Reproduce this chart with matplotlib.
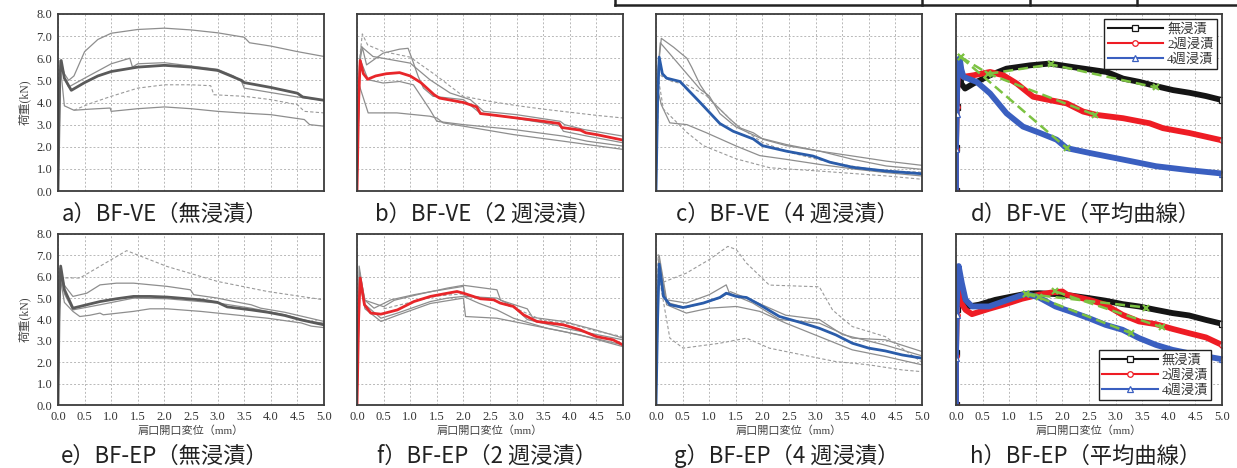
import numpy as np
import matplotlib
matplotlib.use("Agg")
import matplotlib.pyplot as plt
from matplotlib.lines import Line2D
from matplotlib.ticker import FormatStrFormatter

plt.rcParams['font.serif'] = ['Liberation Serif', 'DejaVu Serif']
plt.rcParams['font.family'] = ['serif', 'Noto Sans CJK JP']

# ---- data: (crack opening mm, load kN) ----
# a) BF-VE 無浸漬
a_avg = [(0, 0), (0.03, 5.0), (0.06, 5.9), (0.12, 5.1), (0.25, 4.55), (0.5, 4.9), (0.75, 5.2), (1.0, 5.4),
         (1.5, 5.6), (2.0, 5.68), (2.5, 5.6), (3.0, 5.45), (3.25, 5.2), (3.45, 5.0), (3.5, 4.9), (4.0, 4.68),
         (4.5, 4.42), (4.6, 4.25), (5.0, 4.1)]
a_g1 = [(0, 0), (0.04, 5.9), (0.12, 5.3), (0.2, 5.0), (0.3, 5.2), (0.5, 6.3), (0.75, 6.85), (1.0, 7.13),
        (1.5, 7.3), (2.0, 7.36), (2.5, 7.28), (3.0, 7.15), (3.5, 6.95), (3.6, 6.7), (4.0, 6.55), (4.5, 6.3),
        (5.0, 6.08)]
a_g2 = [(0, 0), (0.04, 5.9), (0.12, 5.1), (0.2, 4.7), (0.5, 5.1), (1.0, 5.75), (1.35, 6.0), (1.4, 5.6),
        (1.5, 5.75), (2.0, 5.8), (2.5, 5.65), (3.0, 5.5), (3.3, 5.2), (3.45, 4.95), (3.5, 4.65), (4.0, 4.45),
        (4.5, 4.25), (5.0, 4.1)]
a_dash = [(0.3, 3.65), (0.6, 3.95), (1.0, 4.28), (1.5, 4.65), (2.0, 4.8), (2.5, 4.8), (2.87, 4.76),
          (2.93, 4.35), (3.5, 4.28), (4.0, 4.13), (4.5, 3.9), (4.63, 3.6), (5.0, 3.53)]
a_g3 = [(0, 0), (0.05, 5.5), (0.12, 3.85), (0.3, 3.65), (0.6, 3.7), (0.98, 3.75), (1.0, 3.6), (1.5, 3.72),
        (2.0, 3.8), (2.5, 3.72), (3.0, 3.6), (3.5, 3.52), (4.0, 3.45), (4.63, 3.23), (4.73, 3.0), (5.0, 2.93)]

# b) BF-VE 2週浸漬
b_avg = [(0, 0), (0.03, 4.0), (0.06, 5.9), (0.12, 5.3), (0.2, 5.05), (0.35, 5.2), (0.55, 5.3), (0.8, 5.35),
         (1.0, 5.2), (1.2, 4.9), (1.45, 4.35), (1.55, 4.2), (2.0, 4.0), (2.25, 3.8), (2.32, 3.5), (2.5, 3.45),
         (3.0, 3.3), (3.5, 3.15), (3.8, 3.05), (3.85, 2.87), (4.2, 2.75), (4.3, 2.63), (4.5, 2.55), (5.0, 2.3)]
b_dash = [(0, 0), (0.05, 6.0), (0.1, 7.1), (0.2, 6.6), (0.5, 6.3), (1.0, 6.05), (1.5, 5.2), (2.0, 4.28),
          (2.5, 4.05), (3.0, 3.86), (3.5, 3.7), (4.0, 3.56), (4.5, 3.42), (5.0, 3.3)]
b_g1 = [(0, 0), (0.05, 5.8), (0.1, 6.5), (0.18, 5.7), (0.49, 6.23), (0.8, 6.41), (0.96, 6.45), (1.03, 6.0),
        (1.15, 5.18), (1.25, 4.65), (1.43, 4.28), (2.0, 4.13), (2.31, 3.53), (2.94, 3.3), (3.5, 3.08),
        (3.82, 2.93), (3.88, 2.7), (4.33, 2.48), (5.0, 2.18)]
b_g2 = [(0, 0), (0.05, 5.8), (0.08, 6.53), (0.3, 6.08), (1.0, 5.78), (1.37, 5.03), (1.75, 4.43), (2.13, 4.13),
        (2.38, 3.6), (3.0, 3.45), (3.82, 3.15), (3.9, 3.0), (4.26, 2.78), (5.0, 2.48)]
b_g3 = [(0, 0), (0.04, 4.8), (0.21, 3.53), (0.75, 3.53), (1.37, 3.38), (1.5, 3.3), (1.62, 3.08), (2.0, 2.93),
        (2.94, 2.55), (3.88, 2.25), (5.0, 1.88)]
b_g4 = [(0, 0), (0.05, 6.0), (0.21, 5.03), (0.49, 4.88), (0.8, 4.95), (1.06, 4.8), (1.37, 3.68), (1.5, 3.15),
        (2.0, 3.0), (2.94, 2.78), (3.88, 2.48), (4.33, 2.25), (5.0, 2.03)]

# c) BF-VE 4週浸漬
c_avg = [(0, 0), (0.03, 4.0), (0.06, 6.05), (0.12, 5.3), (0.2, 5.1), (0.45, 4.95), (0.83, 4.0), (1.2, 3.05),
         (1.45, 2.7), (1.83, 2.35), (2.0, 2.05), (2.45, 1.8), (2.95, 1.58), (3.27, 1.3), (3.7, 1.07),
         (4.33, 0.9), (5.0, 0.78)]
c_g1 = [(0, 0), (0.04, 5.5), (0.1, 6.9), (0.33, 6.5), (0.58, 6.0), (0.67, 5.6), (0.83, 4.8), (1.01, 4.15),
        (1.2, 3.7), (1.39, 3.25), (1.58, 2.85), (1.83, 2.63), (2.02, 2.33), (2.45, 2.05), (3.08, 1.8),
        (3.7, 1.58), (4.33, 1.35), (5.0, 1.16)]
c_g2 = [(0, 0), (0.04, 5.5), (0.08, 6.7), (0.26, 6.2), (0.58, 5.3), (0.83, 4.6), (1.0, 4.3), (1.2, 3.5),
        (1.5, 2.9), (1.95, 2.4), (2.45, 2.1), (3.08, 1.8), (3.7, 1.43), (4.33, 1.13), (5.0, 0.98)]
c_dash1 = [(0, 0), (0.04, 5.5), (0.1, 5.2), (0.3, 4.95), (0.58, 4.8), (0.95, 4.3), (1.2, 3.7), (1.5, 3.0),
           (2.0, 2.2), (2.5, 1.75), (3.0, 1.45), (3.5, 1.2), (4.0, 1.0), (4.5, 0.9), (5.0, 0.85)]
c_g3 = [(0, 0), (0.04, 4.5), (0.1, 3.9), (0.26, 3.08), (0.58, 3.0), (0.95, 2.63), (1.51, 2.03), (1.95, 1.6),
        (2.45, 1.43), (3.08, 1.2), (3.7, 1.0), (4.33, 0.83), (5.0, 0.68)]
c_dash2 = [(0, 0), (0.05, 5.0), (0.14, 3.7), (0.58, 2.65), (0.89, 2.05), (1.51, 1.45), (2.14, 1.05),
           (3.08, 0.9), (4.33, 0.68), (5.0, 0.53)]

# d) BF-VE 平均曲線
d_black = [(0, 0), (0.0, 1.95), (0.01, 3.8), (0.03, 5.2), (0.06, 5.6), (0.1, 4.85), (0.17, 4.63), (0.33, 4.86),
           (0.64, 5.23), (0.95, 5.53), (1.39, 5.68), (1.76, 5.76), (2.2, 5.6), (2.83, 5.38), (3.14, 5.08),
           (3.45, 4.93), (3.76, 4.74), (4.08, 4.56), (4.39, 4.44), (4.7, 4.29), (5.0, 4.11)]
d_red = [(0, 0), (0.0, 1.9), (0.01, 3.8), (0.02, 4.5), (0.05, 5.9), (0.09, 5.4), (0.14, 5.16), (0.33, 5.23),
         (0.64, 5.38), (0.89, 5.23), (1.14, 4.86), (1.45, 4.26), (1.76, 4.11), (2.08, 3.96), (2.39, 3.59),
         (2.64, 3.44), (3.14, 3.29), (3.64, 3.06), (3.89, 2.84), (4.39, 2.62), (5.0, 2.29)]
d_blue = [(0, 0), (0.0, 1.9), (0.01, 3.5), (0.03, 5.3), (0.07, 6.0), (0.1, 5.5), (0.14, 5.16), (0.39, 4.93),
          (0.64, 4.41), (0.95, 3.51), (1.26, 2.91), (1.58, 2.62), (1.89, 2.32), (2.08, 1.94), (2.51, 1.72),
          (3.14, 1.42), (3.76, 1.12), (4.39, 0.94), (5.0, 0.79)]
d_fit_black = [(0.61, 5.3), (1.79, 5.72), (3.76, 4.68)]
d_fit_red = [(0.09, 6.05), (0.61, 5.3), (2.61, 3.44)]
d_fit_blue = [(0.09, 6.05), (2.08, 1.94)]

# e) BF-EP 無浸漬
e_avg = [(0, 0), (0.02, 4.5), (0.05, 6.5), (0.12, 5.4), (0.28, 4.53), (0.54, 4.69), (0.79, 4.84), (1.1, 4.97),
         (1.42, 5.08), (1.73, 5.08), (2.05, 5.05), (2.68, 4.92), (3.0, 4.8), (3.18, 4.59), (3.63, 4.45),
         (3.94, 4.34), (4.26, 4.19), (4.57, 3.98), (5.0, 3.75)]
e_dash = [(0, 0), (0.02, 5.95), (0.41, 5.94), (1.29, 7.22), (2.05, 6.48), (3.0, 5.78), (3.94, 5.31), (5.0, 4.92)]
e_g1 = [(0, 0), (0.03, 6.4), (0.12, 5.6), (0.28, 5.08), (0.54, 5.23), (0.79, 5.62), (1.1, 5.7), (1.42, 5.7),
        (2.05, 5.55), (2.49, 5.39), (2.55, 5.16), (3.0, 5.0), (3.31, 4.84), (3.63, 4.69), (3.81, 4.53),
        (4.26, 4.34), (5.0, 3.91)]
e_g2 = [(0, 0), (0.04, 6.2), (0.12, 5.2), (0.28, 4.45), (0.79, 4.69), (1.42, 5.0), (2.05, 4.97), (3.0, 4.77),
        (3.63, 4.53), (4.26, 4.22), (4.75, 3.9), (5.0, 3.83)]
e_g3 = [(0, 0), (0.04, 6.0), (0.12, 4.8), (0.28, 4.38), (0.41, 4.14), (0.6, 4.2), (0.79, 4.3), (0.85, 4.22),
        (1.42, 4.38), (1.73, 4.5), (2.05, 4.5), (2.68, 4.38), (3.31, 4.22), (3.94, 4.06), (4.57, 3.84),
        (4.76, 3.69), (5.0, 3.62)]

# f) BF-EP 2週浸漬
f_avg = [(0, 0), (0.03, 4.0), (0.06, 5.94), (0.14, 4.69), (0.26, 4.3), (0.45, 4.25), (0.76, 4.45), (1.07, 4.84),
         (1.38, 5.08), (1.7, 5.23), (1.88, 5.31), (2.0, 5.23), (2.32, 4.97), (2.57, 4.92), (2.69, 4.77),
         (2.94, 4.61), (3.13, 4.22), (3.38, 3.91), (3.88, 3.75), (4.19, 3.52), (4.5, 3.2), (4.81, 3.05), (5.0, 2.81)]
f_g1 = [(0, 0), (0.04, 6.5), (0.14, 4.92), (0.32, 4.53), (0.64, 4.92), (1.07, 5.16), (1.38, 5.3), (2.0, 5.55),
        (2.03, 5.08), (2.63, 5.0), (2.94, 4.61), (3.2, 4.0), (3.88, 3.6), (4.5, 3.3), (5.0, 3.05)]
f_g2 = [(0, 0), (0.05, 6.0), (0.15, 4.7), (0.45, 4.06), (0.76, 4.3), (1.38, 4.84), (1.7, 5.0), (2.0, 5.08),
        (2.3, 4.75), (2.63, 4.45), (2.94, 4.06), (3.57, 3.59), (4.19, 3.28), (5.0, 2.73)]
f_g3 = [(0, 0), (0.05, 5.8), (0.15, 4.5), (0.45, 3.91), (0.76, 4.2), (1.38, 4.75), (2.0, 5.0), (2.04, 4.14),
        (2.63, 4.06), (3.25, 3.75), (3.88, 3.44), (4.5, 3.1), (5.0, 2.81)]
f_g4 = [(0, 0), (0.05, 6.2), (0.15, 4.9), (0.5, 4.6), (0.7, 4.9), (1.2, 5.2), (1.7, 5.47), (2.0, 5.6),
        (2.63, 5.39), (2.7, 4.9), (3.2, 4.5), (3.3, 4.1), (3.88, 3.91), (4.5, 3.5), (5.0, 3.13)]
f_dash = [(0.5, 4.5), (1.0, 4.8), (1.5, 5.1), (2.0, 5.2), (2.5, 4.95), (3.0, 4.5), (3.5, 3.95), (4.0, 3.8),
          (4.5, 3.45), (5.0, 3.2)]

# g) BF-EP 4週浸漬
g_avg = [(0, 0), (0.03, 4.0), (0.06, 6.59), (0.14, 5.08), (0.26, 4.69), (0.51, 4.56), (0.89, 4.77), (1.2, 5.03),
         (1.32, 5.23), (1.51, 5.08), (1.7, 5.03), (1.95, 4.69), (2.32, 4.14), (2.76, 3.83), (3.07, 3.59),
         (3.38, 3.28), (3.69, 2.89), (4.0, 2.66), (4.31, 2.53), (4.63, 2.34), (5.0, 2.19)]
g_dash1 = [(0, 0), (0.04, 7.03), (0.14, 5.75), (0.57, 6.17), (1.0, 6.8), (1.35, 7.42), (1.51, 7.27), (1.7, 6.64),
           (2.13, 5.61), (3.07, 5.53), (3.32, 4.44), (3.69, 3.67), (4.31, 3.2), (5.0, 2.0)]
g_g1 = [(0, 0), (0.06, 7.0), (0.2, 4.92), (0.57, 4.77), (1.0, 5.16), (1.32, 5.62), (1.38, 5.23), (1.82, 4.77),
        (2.32, 4.0), (3.07, 3.83), (3.69, 3.13), (4.31, 3.05), (5.0, 2.5)]
g_g2 = [(0, 0), (0.05, 6.5), (0.2, 4.69), (0.57, 4.3), (1.0, 4.53), (1.51, 4.61), (1.95, 4.38), (2.44, 3.83),
        (3.07, 3.2), (3.69, 2.58), (4.31, 2.27), (5.0, 1.88)]
g_g3 = [(0, 0), (0.05, 6.8), (0.2, 4.8), (0.57, 4.55), (1.2, 5.0), (1.4, 5.3), (1.8, 4.9), (2.44, 4.2),
        (3.07, 4.0), (3.5, 3.3), (4.31, 2.8), (5.0, 2.3)]
g_dash2 = [(0, 0), (0.04, 6.25), (0.26, 3.13), (0.51, 2.66), (1.2, 2.89), (1.7, 3.13), (2.13, 2.66),
           (2.76, 2.34), (3.38, 2.03), (4.0, 1.88), (4.63, 1.64), (5.0, 1.56)]

# h) BF-EP 平均曲線
h_black = [(0, 0), (0.0, 2.42), (0.01, 4.5), (0.03, 6.0), (0.05, 5.6), (0.09, 5.0), (0.14, 4.84), (0.24, 4.61),
           (0.43, 4.69), (0.74, 4.92), (1.06, 5.08), (1.31, 5.2), (1.56, 5.23), (1.87, 5.19), (2.19, 5.11),
           (2.5, 5.0), (2.81, 4.88), (3.13, 4.72), (3.44, 4.61), (3.76, 4.45), (4.07, 4.3), (4.38, 4.19),
           (4.7, 3.98), (5.0, 3.8)]
h_red = [(0, 0), (0.0, 2.3), (0.01, 4.2), (0.02, 5.0), (0.03, 5.7), (0.08, 4.84), (0.18, 4.45), (0.3, 4.25),
         (0.62, 4.5), (0.93, 4.72), (1.24, 4.97), (1.56, 5.16), (1.81, 5.27), (2.0, 5.31), (2.09, 5.16),
         (2.5, 4.92), (2.81, 4.69), (3.13, 4.22), (3.44, 3.91), (3.76, 3.78), (4.07, 3.56), (4.38, 3.36),
         (4.7, 3.16), (5.0, 2.81)]
h_blue = [(0, 0), (0.0, 2.2), (0.01, 4.2), (0.03, 5.8), (0.05, 6.5), (0.11, 5.7), (0.18, 4.92), (0.3, 4.61),
          (0.62, 4.61), (0.93, 4.88), (1.31, 5.2), (1.56, 5.03), (1.87, 4.61), (2.19, 4.34), (2.5, 4.06),
          (2.81, 3.75), (3.13, 3.52), (3.44, 3.13), (3.76, 2.81), (4.07, 2.58), (4.38, 2.42), (5.0, 2.14)]
h_fit_black = [(1.31, 5.2), (3.57, 4.56)]
h_fit_red = [(1.87, 5.31), (3.88, 3.63)]
h_fit_blue = [(1.31, 5.2), (1.56, 5.03), (3.29, 3.36)]

legend_labels = ['無浸漬', '2週浸漬', '4週浸漬']
captions = ['a）BF-VE（無浸漬）', 'b）BF-VE（2 週浸漬）', 'c）BF-VE（4 週浸漬）', 'd）BF-VE（平均曲線）',
            'e）BF-EP（無浸漬）', 'f）BF-EP（2 週浸漬）', 'g）BF-EP（4 週浸漬）', 'h）BF-EP（平均曲線）']

# ---- figure ----
W, H = 1237, 468
fig = plt.figure(figsize=(W / 100, H / 100), dpi=100)

GRAY = '#8e8e8e'
DARK = '#5a5a5a'
RED = '#e8262a'
BLUE = '#2a5caa'
GREEN = '#7cc242'


def line(ax, pts, **kw):
    xs, ys = zip(*pts)
    return ax.plot(xs, ys, **kw)[0]


def gray(ax, pts):
    line(ax, pts, color=GRAY, lw=0.9)


def gray_dash(ax, pts):
    line(ax, pts, color='#9a9a9a', lw=0.8, ls=(0, (3, 2)))


def panel(col, row):
    left = [58, 357, 656, 956][col]
    top, bottom = [(14, 191), (234, 405)][row]
    ax = fig.add_axes([left / W, 1 - bottom / H, 266 / W, (bottom - top) / H])
    ax.set_xlim(0, 5)
    ax.set_ylim(0, 8)
    ax.set_xticks(np.arange(0, 5.01, 0.5))
    ax.set_yticks(np.arange(0, 8.01, 1.0))
    ax.xaxis.set_major_formatter(FormatStrFormatter('%.1f'))
    ax.yaxis.set_major_formatter(FormatStrFormatter('%.1f'))
    ax.grid(True, color='#b8b8b8', ls=(0, (2, 2)), lw=0.7)
    ax.set_axisbelow(True)
    ax.tick_params(length=0, labelsize=9, colors='#333333', pad=4,
                   labelleft=(col == 0), labelbottom=(row == 1))
    for s in ax.spines.values():
        s.set_color('#3c3c3c')
        s.set_linewidth(1.3)
    if col == 0:
        ax.set_ylabel('荷重(kN)', fontsize=8.5, color='#444444', labelpad=4)
    if row == 1:
        ax.set_xlabel('肩口開口変位（mm）', fontsize=8, color='#444444', labelpad=2)
    return ax


# a
ax = panel(0, 0)
for p in (a_g1, a_g2, a_g3):
    gray(ax, p)
gray_dash(ax, a_dash)
line(ax, a_avg, color=DARK, lw=2.0)

# b
ax = panel(1, 0)
for p in (b_g1, b_g2, b_g3, b_g4):
    gray(ax, p)
gray_dash(ax, b_dash)
line(ax, b_avg, color=RED, lw=2.0)

# c
ax = panel(2, 0)
for p in (c_g1, c_g2, c_g3):
    gray(ax, p)
gray_dash(ax, c_dash1)
gray_dash(ax, c_dash2)
line(ax, c_avg, color=BLUE, lw=2.0)

# e
ax = panel(0, 1)
for p in (e_g1, e_g2, e_g3):
    gray(ax, p)
gray_dash(ax, e_dash)
line(ax, e_avg, color=DARK, lw=2.0)

# f
ax = panel(1, 1)
for p in (f_g1, f_g2, f_g3, f_g4):
    gray(ax, p)
gray_dash(ax, f_dash)
line(ax, f_avg, color=RED, lw=2.0)

# g
ax = panel(2, 1)
for p in (g_g1, g_g2, g_g3):
    gray(ax, p)
gray_dash(ax, g_dash1)
gray_dash(ax, g_dash2)
line(ax, g_avg, color=BLUE, lw=2.0)


def mean_panel(ax, black, red, blue, fits, legend_loc, anchor):
    keys = []
    for pts, c, m in ((black, '#151515', 's'), (red, '#ee1c24', 'o'), (blue, '#3a5fc0', '^')):
        n = len(pts)
        # dense markers in the original merge into a thick band; only rise and end points stand out
        line(ax, pts, color=c, lw=4.2, marker=m, ms=4, mfc='white', mec=c, mew=0.9,
             markevery=[0, 1, 2, n - 1], solid_joinstyle='round')
        keys.append(Line2D([], [], color=c, lw=1.5, marker=m, ms=4, mfc='white', mec=c, mew=0.9))
    for pts in fits:
        line(ax, pts, color=GREEN, lw=1.8, ls=(0, (4, 2)), marker='x', ms=5, mew=1.5)
    leg = ax.legend(keys, legend_labels, loc=legend_loc, bbox_to_anchor=anchor, fontsize=9.5,
                    fancybox=False, edgecolor='#222222', framealpha=1, handlelength=4.2,
                    borderpad=0.25, labelspacing=0.2, handletextpad=0.3, borderaxespad=0)
    leg.get_frame().set_linewidth(1.0)
    for t in leg.get_texts():
        t.set_color('#333333')


ax = panel(3, 0)
mean_panel(ax, d_black, d_red, d_blue, (d_fit_black, d_fit_red, d_fit_blue), 'upper right', (0.98, 0.97))
ax = panel(3, 1)
mean_panel(ax, h_black, h_red, h_blue, (h_fit_black, h_fit_red, h_fit_blue), 'lower right', (0.96, 0.03))

# captions
cap_x = [165, 487, 787, 1086]
cap_y = [214, 456]
for i, txt in enumerate(captions):
    fig.text(cap_x[i % 4] / W, 1 - cap_y[i // 4] / H, txt, ha='center', va='center',
             fontsize=16, color='#222222', family=['Noto Sans CJK JP'])

# fragment of the table cut off above the figure
fig.add_artist(Line2D([615 / W, 1], [1 - 5 / H, 1 - 5 / H], color='#222222', lw=1.8))
for vx in (615, 922, 1030, 1137):
    fig.add_artist(Line2D([vx / W, vx / W], [1 - 5 / H, 1], color='#222222', lw=1.8))

fig.savefig('out.png', dpi=100)
